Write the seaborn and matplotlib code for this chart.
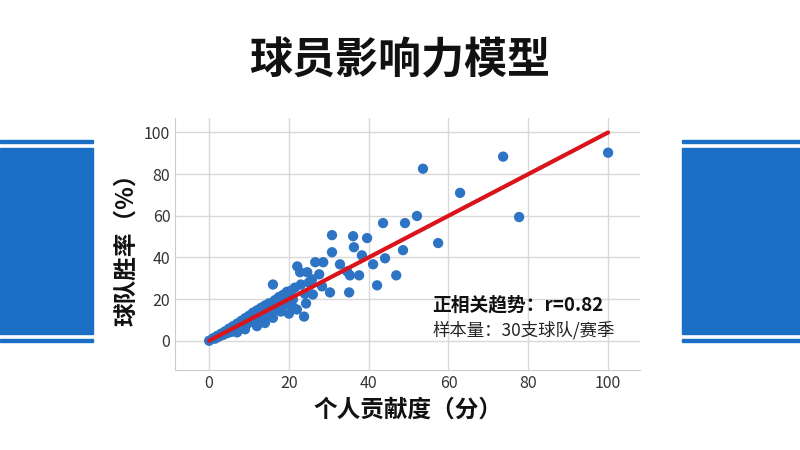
import matplotlib
matplotlib.use('Agg')
import matplotlib.pyplot as plt
import matplotlib.patches as patches
import seaborn as sns
import numpy as np
import pandas as pd

sns.set_style('white')
plt.rcParams['font.family'] = ['Noto Sans CJK SC', 'DejaVu Sans']

# contribution (x) vs team win rate (y)
contrib = [53.6, 73.7, 100, 62.9, 77.7, 52.1, 49.1, 43.6, 57.4, 48.6, 46.9, 42.1, 44.1, 41.1,
           39.6, 36.1, 30.8, 30.8, 36.3, 38.3, 37.6, 35.1, 32.8, 34.6, 35.3, 30.3, 28.6, 26.6,
           27.6, 22.1, 22.8, 24.6, 16.0, 23.8, 24.3, 22.0, 26.0, 28.3, 25.8,
           0, 1, 1.5, 2, 2.5, 3, 3.5, 4, 4.5, 5, 5.5, 6, 6.5, 7, 7.5, 8, 8.5, 9, 9.5, 10,
           10.5, 11, 11.5, 12, 12.5, 13, 13.5, 14, 14.5, 15, 15.5, 16.5, 17, 17.5, 18, 18.5,
           19, 19.5, 20, 20.5, 21, 21.5, 23, 24, 25, 14, 12, 16, 18, 20, 9, 11, 7, 13, 15, 19, 21]
winrate = [82.6, 88.4, 90.3, 71.0, 59.4, 59.9, 56.5, 56.5, 46.9, 43.5, 31.4, 26.6, 39.6, 36.7,
           49.3, 50.2, 50.7, 42.5, 44.9, 41.0, 31.4, 23.2, 36.7, 33.3, 31.4, 23.2, 37.7, 37.7,
           31.9, 35.7, 32.9, 32.9, 27.0, 11.6, 17.9, 15.0, 22.2, 26.1, 29.5,
           0, 1.2, 1.0, 2.3, 2.0, 3.4, 2.8, 4.5, 3.6, 5.8, 4.2, 7.0, 5.1, 8.2, 6.0, 9.5, 7.1, 10.8, 8.0, 12.0,
           9.2, 13.5, 10.0, 14.6, 11.2, 15.8, 12.0, 16.9, 13.3, 18.0, 14.1, 19.5, 15.2, 21.0, 16.4, 22.0,
           17.5, 23.5, 18.6, 24.0, 19.8, 25.5, 27.0, 22.5, 28.0, 8.5, 7.0, 11.0, 14.0, 13.0, 5.5, 9.0, 4.0, 10.5, 12.5, 20.5, 16.0]
fit_x = [0, 100]
fit_y = [0, 100]

df = pd.DataFrame({'x': contrib, 'y': winrate})

fig = plt.figure(figsize=(8, 4.5), dpi=100)
fig.patch.set_facecolor('white')

# side blue panels
for x0, w in [(0, 0.116), (0.853, 0.147)]:
    fig.add_artist(patches.Rectangle((x0, 1 - 143 / 450), w, 3 / 450, transform=fig.transFigure, color='#1a6fc4'))
    fig.add_artist(patches.Rectangle((x0, 1 - 334 / 450), w, 186 / 450, transform=fig.transFigure, color='#1a6fc4'))
    fig.add_artist(patches.Rectangle((x0, 1 - 342 / 450), w, 3 / 450, transform=fig.transFigure, color='#1a6fc4'))

fig.text(0.5, 0.865, '球员影响力模型', ha='center', va='center', fontsize=31, fontweight='bold', color='#111111')

ax = fig.add_axes([0.219, 0.178, 0.581, 0.56])
sns.scatterplot(data=df, x='x', y='y', ax=ax, color='#2d74c4', s=55, edgecolor='none', zorder=3)
sns.lineplot(x=fit_x, y=fit_y, ax=ax, color='#d9141b', linewidth=3, zorder=4)
ax.set_xlim(-8.5, 108)
ax.set_ylim(-14, 107)
ax.set_xticks([0, 20, 40, 60, 80, 100])
ax.set_yticks([0, 20, 40, 60, 80, 100])
ax.grid(True, color='#d8d8d8', linewidth=1)
for s in ['top', 'right']:
    ax.spines[s].set_visible(False)
for s in ['left', 'bottom']:
    ax.spines[s].set_color('#cccccc')
ax.tick_params(labelsize=11.5, colors='#333333', length=0)
ax.set_xlabel('个人贡献度（分）', fontsize=17, fontweight='bold', color='#111111')
ax.set_ylabel('球队胜率（%）', fontsize=17, fontweight='bold', color='#111111')
ax.text(0.553, 0.258, '正相关趋势：r=0.82', transform=ax.transAxes, fontsize=13.5, fontweight='bold',
        color='#111111', va='center')
ax.text(0.553, 0.159, '样本量：30支球队/赛季', transform=ax.transAxes, fontsize=12.5, color='#222222', va='center')

fig.savefig('out.png', dpi=100)
